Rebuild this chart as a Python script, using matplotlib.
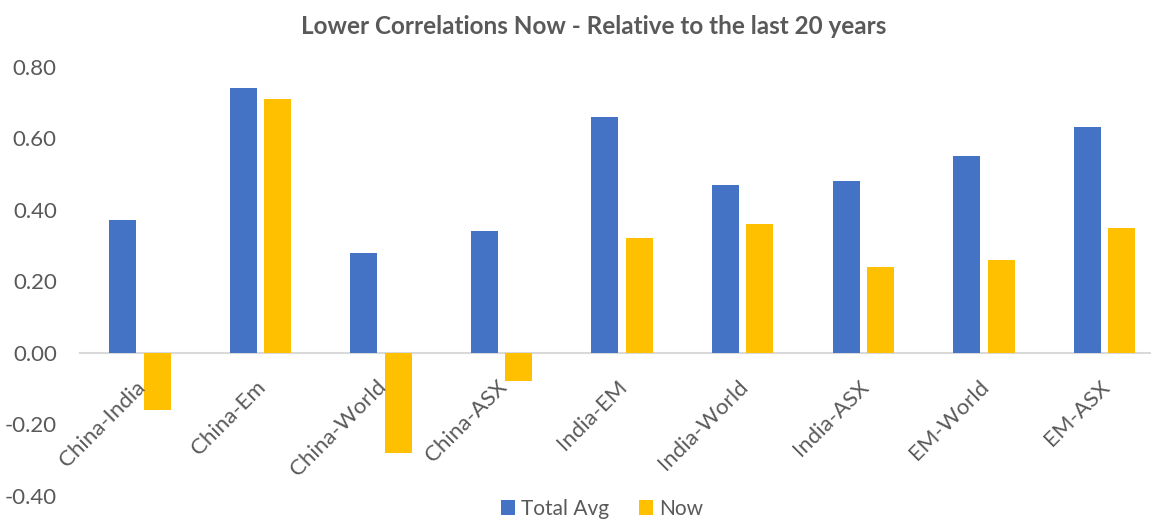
import numpy as np
import matplotlib
matplotlib.use("Agg")
import matplotlib.pyplot as plt
import matplotlib.transforms as mtransforms

# ── Data ──────────────────────────────────────────────────────────────────────
categories = ["China-India", "China-Em", "China-World", "China-ASX", "India-EM",
              "India-World", "India-ASX", "EM-World", "EM-ASX"]
total_avg = [0.37, 0.74, 0.28, 0.34, 0.66, 0.47, 0.48, 0.55, 0.63]
now       = [-0.16, 0.71, -0.28, -0.08, 0.32, 0.36, 0.24, 0.26, 0.35]
y_ticks   = [-0.40, -0.20, 0.00, 0.20, 0.40, 0.60, 0.80]

TITLE = "Lower Correlations Now - Relative to the last 20 years"
BLUE, GOLD, TEXT = "#4472C4", "#FFC000", "#595959"

plt.rcParams["font.family"] = ["Lato", "DejaVu Sans"]

# ── Plot ──────────────────────────────────────────────────────────────────────
W, H = 1151, 520
fig = plt.figure(figsize=(W / 100, H / 100), dpi=100)
left, right = 79.7 / W, 1164.7 / W
bottom, top = 1 - 495.8 / H, 1 - 66.7 / H
ax = fig.add_axes([left, bottom, right - left, top - bottom])

x = np.arange(len(categories))
bw, off = 0.224, 0.143
ax.bar(x - off, total_avg, bw, color=BLUE, label="Total Avg", zorder=2)
ax.bar(x + off, now, bw, color=GOLD, label="Now", zorder=2)

ax.set_xlim(-0.5, len(categories) - 0.5)
ax.set_ylim(-0.4, 0.8)
ax.set_yticks(y_ticks)
ax.set_yticklabels([f"{v:.2f}" for v in y_ticks])

for s in ("top", "right", "left"):
    ax.spines[s].set_visible(False)
ax.spines["bottom"].set_position(("data", 0))
ax.spines["bottom"].set_color("#D9D9D9")
ax.spines["bottom"].set_linewidth(1.5)
ax.spines["bottom"].set_zorder(1)

ax.tick_params(axis="y", length=0, pad=16.5, labelsize=16, labelcolor=TEXT)
ax.set_xticks(x)
ax.tick_params(axis="x", length=0, labelbottom=False)

# category labels hang just under the zero line, rotated like Excel does
shift = mtransforms.ScaledTranslation(-5 / 100, -24 / 100, fig.dpi_scale_trans)
for i, name in enumerate(categories):
    ax.text(i, 0, name, rotation=45, ha="right", va="top",
            rotation_mode="anchor", fontsize=16, color=TEXT,
            transform=ax.transData + shift, zorder=3)

fig.text(594 / W, 1 - 27 / H, TITLE, ha="center", va="center",
         fontsize=17.5, fontweight="bold", color=TEXT)

fig.legend(loc="center", bbox_to_anchor=(602 / W, 1 - 509 / H), ncol=2,
           frameon=False, fontsize=15, labelcolor=TEXT, handlelength=0.7,
           handleheight=0.7, handletextpad=0.3, columnspacing=1.4,
           borderpad=0)

fig.savefig("out.png", dpi=100)
